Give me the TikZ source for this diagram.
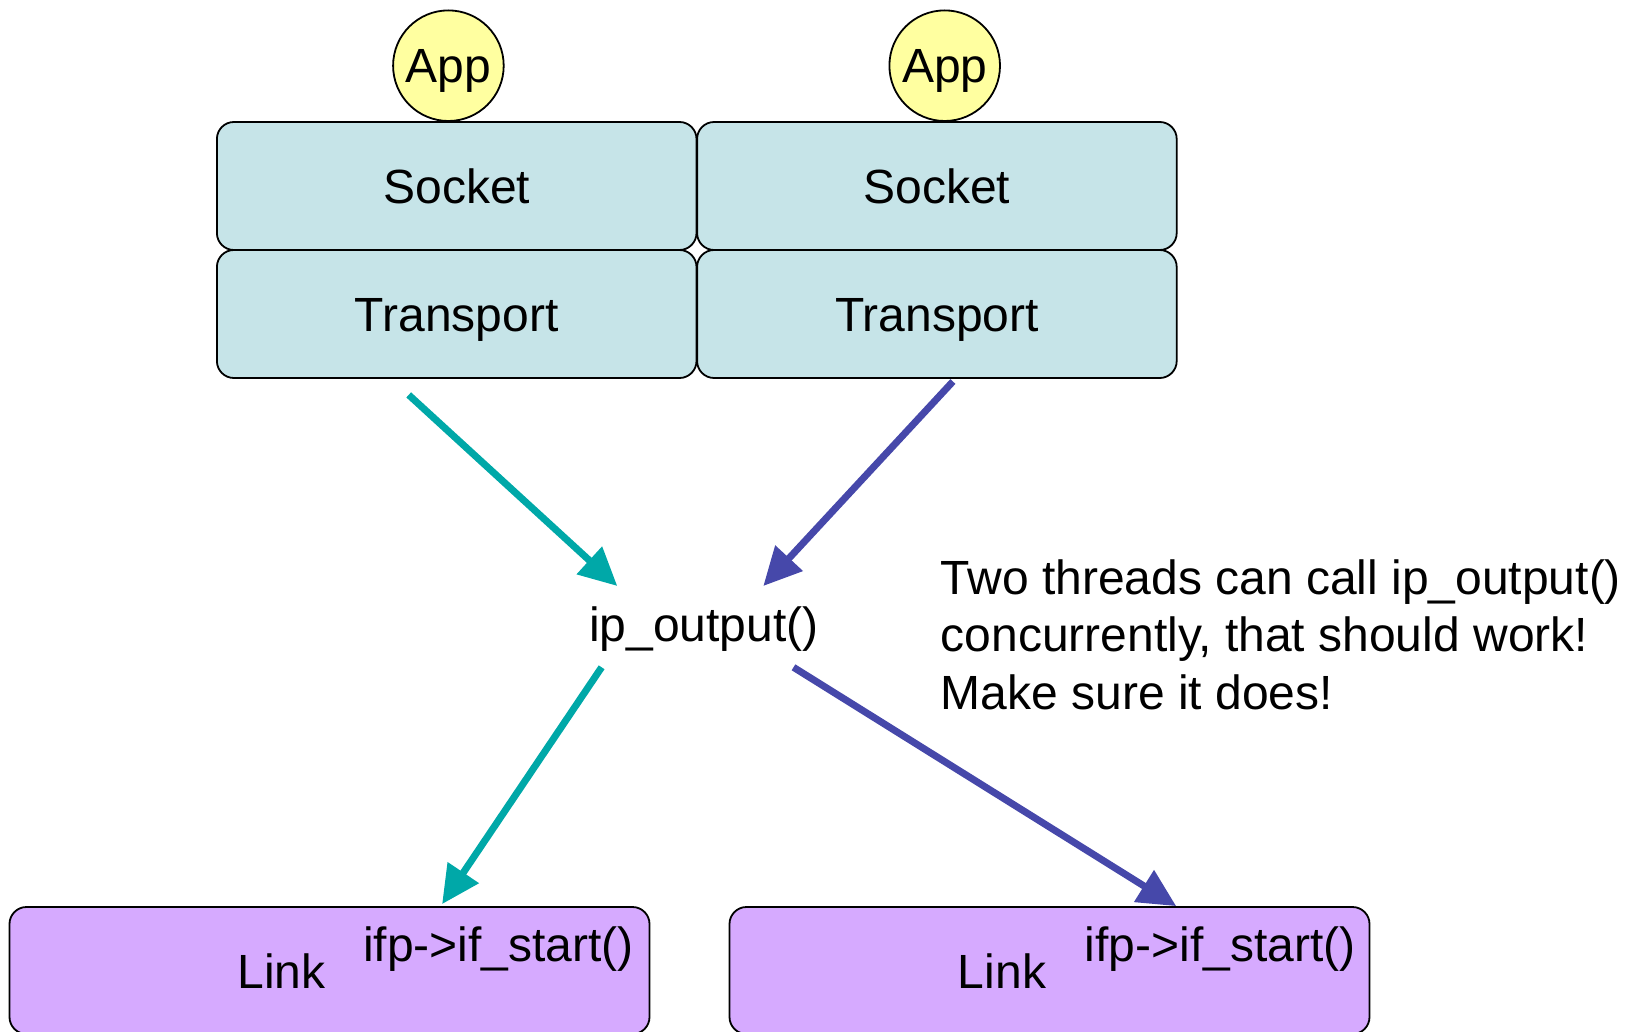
\documentclass[tikz,border=0pt]{standalone}
\usepackage{fontspec}
\setmainfont{Liberation Sans}
\usetikzlibrary{arrows.meta,calc}

\definecolor{threadA}{RGB}{0,168,168}
\definecolor{threadB}{RGB}{70,72,170}
\definecolor{stackfill}{RGB}{198,228,232}
\definecolor{appfill}{RGB}{255,255,160}
\definecolor{linkfill}{RGB}{214,170,255}

\tikzset{
  every node/.style={font=\fontsize{48}{57.3}\selectfont},
  layer/.style={draw=black, line width=1.8pt, rounded corners=17pt, fill=stackfill,
    minimum width=479.6pt, minimum height=128pt, inner sep=0pt,
    text height=34.4pt, text depth=0pt},
  appnode/.style={circle, draw=black, line width=1.8pt, fill=appfill,
    minimum size=110.6pt, inner sep=0pt, text height=34.4pt, text depth=0pt},
  linkbox/.style={draw=black, line width=1.8pt, rounded corners=17pt, fill=linkfill,
    minimum width=640pt, minimum height=127pt, inner sep=0pt},
  label/.style={inner sep=0pt, anchor=base},
  flow/.style={line width=7pt, -{Triangle[length=38pt,width=36pt]}},
}

\begin{document}
\begin{tikzpicture}[x=1pt, y=-1pt]
  \useasboundingbox (0,0) rectangle (1635,1032);

  % protocol stacks of the two threads
  \node[layer] (sl) at (456.7,186) {Socket};
  \node[layer] (tl) at (456.7,314) {Transport};
  \node[layer] (sr) at (936.9,186) {Socket};
  \node[layer] (tr) at (936.9,314) {Transport};

  \node[appnode] (al) at (448.4,65.7) {App};
  \node[appnode] (ar) at (944.7,65.7) {App};

  % shared IP output routine
  \node[label] (ip) at (703.8,641.3) {ip\_output()};

  % link layer boxes
  \node[linkbox] (ll) at (329.5,970.5) {};
  \node[linkbox] (lr) at (1049.5,970.5) {};
  \node[label] (lltxt) at (281.5,988.5) {Link};
  \node[label] (llcall) at (498.4,961.4) {ifp->if\_start()};
  \node[label] (lrtxt) at (1002,988.5) {Link};
  \node[label] (lrcall) at (1220,961.4) {ifp->if\_start()};

  % remark (base anchor sits on the last line)
  \node[inner sep=0pt, anchor=base west, align=left] (note) at (940.5,709)
    {Two threads can call ip\_output()\\concurrently, that should work!\\Make sure it does!};

  % call paths
  \draw[flow, threadA] ($(tl.south)+(-48,16)$) -- ($(ip.base)+(-86.5,-55.3)$);
  \draw[flow, threadB] ($(tr.south)+(16,2.6)$) -- ($(ip.base)+(59.5,-55.3)$);
  \draw[flow, threadA] ($(ip.base)+(-102.2,26)$) -- ($(ll.north)+(112.6,-2)$);
  \draw[flow, threadB] ($(ip.base)+(89.7,26)$) -- ($(lr.north)+(126.7,0)$);
\end{tikzpicture}
\end{document}
